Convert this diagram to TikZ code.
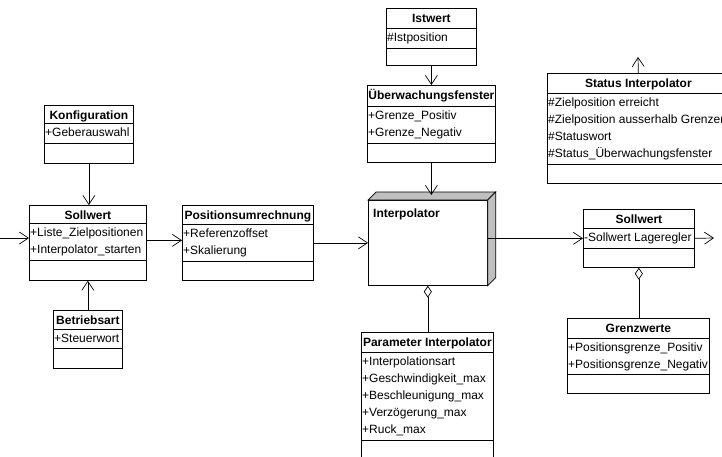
\documentclass[tikz,border=0pt]{standalone}
\usepackage{fontspec}
\setmainfont{Liberation Sans}
\usetikzlibrary{calc}
\usetikzlibrary{arrows.meta}

\tikzset{
  classbox/.style={draw, line width=0.7pt, inner sep=0pt, fill=white},
  classline/.style={line width=0.7pt},
  classtitle/.style={font=\fontsize{12}{14}\selectfont\bfseries, inner sep=0pt},
  classattr/.style={font=\fontsize{12}{14}\selectfont, inner sep=0pt},
  assoc/.style={line width=0.7pt, -{Straight Barb[length=9pt,width=12pt]}},
  aggr/.style={line width=0.7pt, {Diamond[open,length=12pt,width=8pt]}-},
}

% class box: name, top left, width, heights of the three parts, title, attributes
\newcommand{\umlclass}[8]{%
  \node[classbox, minimum width=#3pt, minimum height={(#4+#5+#6)*1pt}, anchor=north west] (#1) at #2 {};
  \draw[classline] ([yshift=-#4pt]#1.north west) -- ([yshift=-#4pt]#1.north east);
  \draw[classline] ([yshift={-(#4+#5)*1pt}]#1.north west) -- ([yshift={-(#4+#5)*1pt}]#1.north east);
  \node[classtitle, anchor=base] (#1-title) at ([yshift=-14pt]#1.north) {#7};
  \foreach \attr [count=\i] in {#8}
    \node[classattr, anchor=base west] (#1-attr\i) at ([xshift=1pt,yshift={-(#4+13.5+17*(\i-1))*1pt}]#1.north west) {\attr};
}

\begin{document}
\begin{tikzpicture}[x=1pt,y=-1pt]
\useasboundingbox (0,0) rectangle (722,456);
\clip (0,0) rectangle (722,456);

\umlclass{konfig}{(44,105)}{89}{18}{20}{20}{Konfiguration}{+Geberauswahl}
\umlclass{soll}{(29,205)}{117}{18}{37}{20}{Sollwert}{+Liste\_Zielpositionen,+Interpolator\_starten}
\umlclass{betrieb}{(53,310)}{69}{19}{19}{20}{Betriebsart}{+Steuerwort}
\umlclass{posum}{(182,205)}{131}{19}{37}{19}{Positionsumrechnung}{+Referenzoffset,+Skalierung}
\umlclass{istwert}{(386,8)}{90}{20}{20}{17}{Istwert}{\#Istposition}
\umlclass{ueber}{(367,85)}{128}{21}{37}{19}{Überwachungsfenster}{+Grenze\_Positiv,+Grenze\_Negativ}
\umlclass{param}{(361,332)}{132}{20}{88}{25}{Parameter Interpolator}{+Interpolationsart,+Geschwindigkeit\_max,+Beschleunigung\_max,+Verzögerung\_max,+Ruck\_max}
\umlclass{status}{(547,73)}{182}{20}{71}{19}{Status Interpolator}{\#Zielposition erreicht,\#Zielposition ausserhalb Grenzen,\#Statuswort,\#Status\_Überwachungsfenster}
\umlclass{soll2}{(583,209)}{111}{19}{20}{19}{Sollwert}{-Sollwert Lageregler}
\umlclass{grenz}{(567,318)}{142}{20}{36}{19}{Grenzwerte}{+Positionsgrenze\_Positiv,+Positionsgrenze\_Negativ}

% the interpolator as a box with depth
\node[classbox, minimum width=119pt, minimum height=85pt, anchor=north west] (interp) at (368,200) {};
\draw[classline, fill=gray!50] (interp.north west) -- ++(8,-8) -- ($(interp.north east)+(8,-8)$) -- (interp.north east) -- cycle;
\draw[classline, fill=gray!50] (interp.north east) -- ++(8,-8) -- ($(interp.south east)+(8,-8)$) -- (interp.south east) -- cycle;
\node[classtitle, anchor=base west] (interp-title) at ([xshift=5pt,yshift=-17pt]interp.north west) {Interpolator};

\coordinate (in) at (0,238);
\coordinate (out) at (714,238);
\coordinate (statusout) at (638,57);

\draw[assoc] (in) -- (in -| soll.west);
\draw[assoc] (konfig.south) -- (konfig.south |- soll.north);
\draw[assoc] (betrieb.north) -- (betrieb.north |- soll.south);
\draw[assoc] ([yshift=2.5pt]soll.east) -- ([yshift=2.5pt]posum.west);
\draw[assoc] (posum.east) -- (interp.west);
\draw[assoc] (istwert.south) -- (istwert.south |- ueber.north);
\draw[assoc] (ueber.south) -- ($(ueber.south |- interp.north)+(0,-5)$);
\draw[assoc] (interp.east |- soll2.west) -- (soll2.west);
\draw[assoc] (soll2.east) -- (out);
\draw[assoc] (status.north) -- (statusout);
\draw[aggr] (interp.south) -- (interp.south |- param.north);
\draw[aggr] (soll2.south) -- (soll2.south |- grenz.north);

\end{tikzpicture}
\end{document}
